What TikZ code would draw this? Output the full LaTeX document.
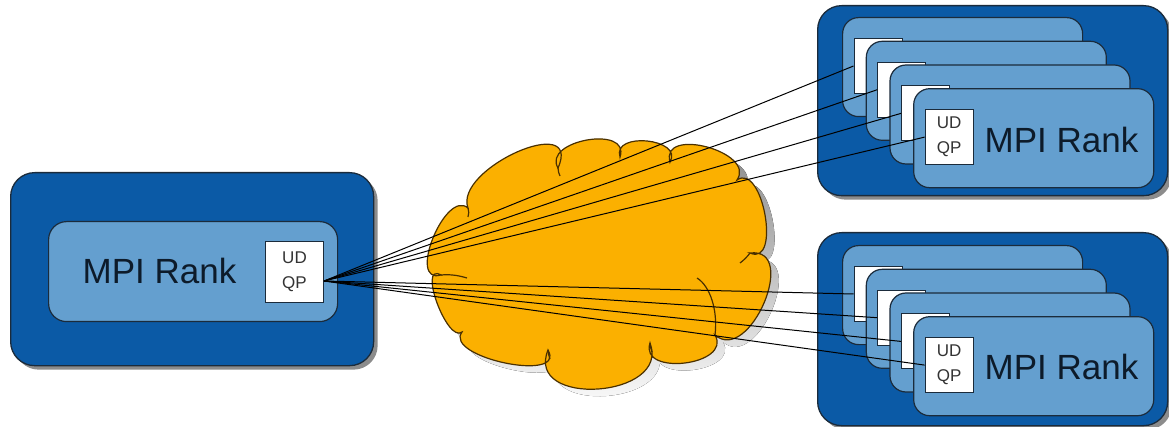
\documentclass[tikz,border=0pt]{standalone}
\usepackage{fontspec}
\setmainfont{Liberation Sans}
\usetikzlibrary{shadows,calc}
\definecolor{dkblue}{HTML}{0B5AA6}
\definecolor{ltblue}{HTML}{649FCF}
\definecolor{edgec}{HTML}{1B2B3B}
\definecolor{cloudfill}{HTML}{FBB000}
\definecolor{cloudedge}{HTML}{4A3000}
\definecolor{shade}{HTML}{8C8C8C}
\definecolor{txt}{HTML}{0D1B2A}
\newcommand{\cloudshape}{(468,208)
 .. controls (453.5,168.8) and (583.1,111.2) .. (558,168)
 .. controls (541.7,140.4) and (630.9,124.6) .. (620,157)
 .. controls (611.7,131.2) and (683.7,138.4) .. (670,162)
 .. controls (660,126) and (756.4,152) .. (737,180)
 .. controls (762.8,161.9) and (781.6,267.1) .. (750,253)
 .. controls (799.7,247) and (749.3,365) .. (715,335)
 .. controls (732.6,365.2) and (639,376.8) .. (650,343)
 .. controls (671.1,398.2) and (524.3,408.2) .. (548,350)
 .. controls (566.9,383.3) and (443.1,357.3) .. (462,332)
 .. controls (447.3,343.8) and (417.1,261.8) .. (441,275)
 .. controls (406.4,285) and (445.2,188.6) .. (468,208) -- cycle}
\tikzset{
 outerbox/.style={draw=edgec, line width=1.3pt, fill=dkblue, rounded corners=24pt, anchor=north west, inner sep=0pt,
   drop shadow={shadow xshift=4pt, shadow yshift=-4pt, fill=shade, opacity=1}},
 rankbox/.style={draw=edgec, line width=1.2pt, fill=ltblue, rounded corners=16pt, anchor=north west, inner sep=0pt,
   minimum width=240pt, minimum height=99pt},
 qpbox/.style={draw=edgec, line width=1pt, fill=white, anchor=north west, inner sep=0pt,
   minimum width=48pt, minimum height=55pt, align=center, font=\fontsize{17}{25}\selectfont, text=black!80},
 ranklabel/.style={font=\fontsize{35}{42}\selectfont, text=txt, inner sep=0pt},
 link/.style={draw=black, line width=1pt},
 cloudline/.style={draw=cloudedge, line width=1.2pt},
}
\begin{document}
\begin{tikzpicture}[x=1pt,y=-1pt]
\useasboundingbox (0,0) rectangle (1169,427);
% cloud
\fill[shade, shift={(8,7)}] \cloudshape;
\filldraw[fill=cloudfill, cloudline] \cloudshape;
\draw[cloudline] (441,275) .. controls (452,274) and (460,276) .. (467,278);
\draw[cloudline] (468,208) .. controls (469,211) and (469,214) .. (468,217);
\draw[cloudline] (558,168) .. controls (558,171) and (559,174) .. (560,176);
\draw[cloudline] (750,253) .. controls (747,257) and (744,260) .. (740,263);
\draw[cloudline] (697,278) .. controls (710,286) and (718,310) .. (715,335);
\draw[cloudline] (650,343) .. controls (650,346) and (651,349) .. (652,352);
\draw[cloudline] (548,350) .. controls (548,353) and (549,356) .. (550,359);
% left rank
\node[outerbox, minimum width=363pt, minimum height=193pt] (lout) at (10,172) {};
\node[rankbox, minimum width=289pt, minimum height=100pt, rounded corners=18pt] (lin) at (48,221) {};
\node[qpbox, minimum width=58pt, minimum height=61pt] (lq) at (265,241) {UD\\QP};
\node[ranklabel] (lrank) at (159.5,270.5) {MPI Rank};
\coordinate (hub) at ([yshift=-9pt]lq.east);
% top right group
\node[outerbox, minimum width=350pt, minimum height=190pt] (tout) at (817,5) {};
\node[rankbox] (t1) at (842,17) {};
\node[qpbox] (tq1) at (853.5,38) {};
\node[rankbox] (t2) at (865.7,40.7) {};
\node[qpbox] (tq2) at (877.2,61.7) {};
\node[rankbox] (t3) at (889.4,64.4) {};
\node[qpbox] (tq3) at (900.9,85.4) {};
\node[rankbox] (t4) at (913.1,88.1) {};
\node[qpbox] (tq4) at (924.6,109.1) {UD\\QP};
\node[ranklabel] (trank) at (1061.5,140) {MPI Rank};
% bottom right group
\node[outerbox, minimum width=350pt, minimum height=193pt] (bout) at (817,232) {};
\node[rankbox] (b1) at (842,245) {};
\node[qpbox] (bq1) at (853.5,266) {};
\node[rankbox] (b2) at (865.7,268.7) {};
\node[qpbox] (bq2) at (877.2,289.7) {};
\node[rankbox] (b3) at (889.4,292.4) {};
\node[qpbox] (bq3) at (900.9,313.4) {};
\node[rankbox] (b4) at (913.1,316.1) {};
\node[qpbox] (bq4) at (924.6,337.1) {UD\\QP};
\node[ranklabel] (brank) at (1061.5,367) {MPI Rank};
% links
\foreach \t in {tq1,tq2,tq3,tq4,bq1,bq2,bq3,bq4}
  \draw[link] (hub) -- (\t.west);
\end{tikzpicture}
\end{document}
